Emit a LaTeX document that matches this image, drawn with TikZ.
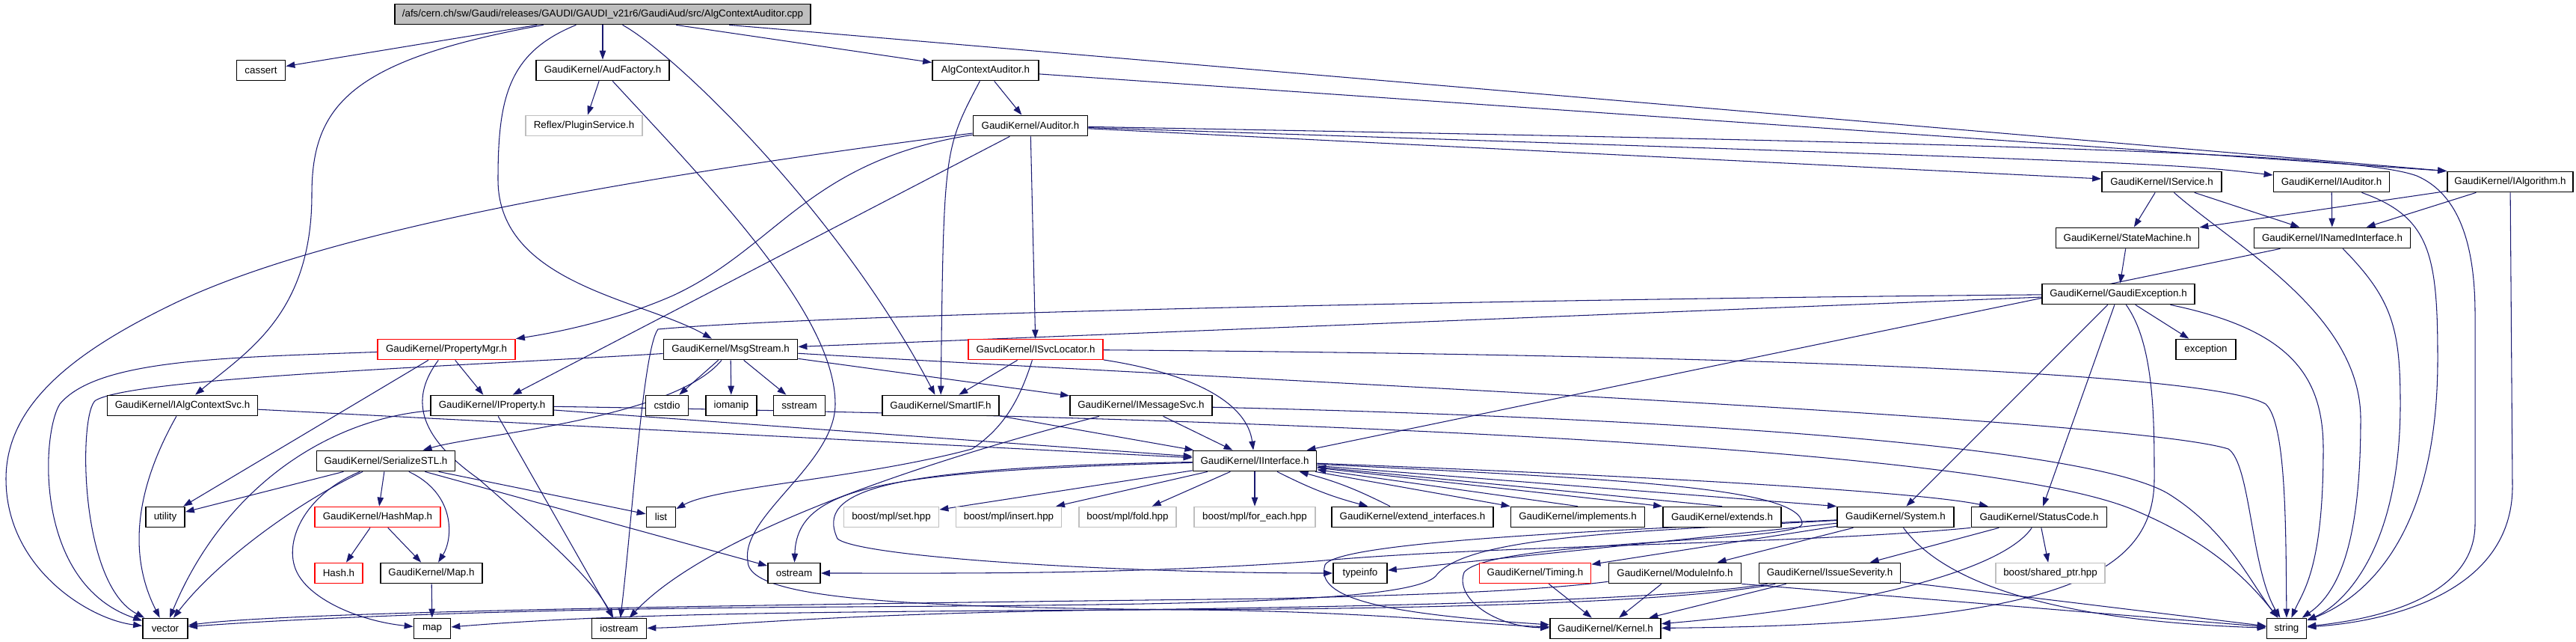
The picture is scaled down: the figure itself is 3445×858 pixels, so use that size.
\documentclass[tikz,border=0pt]{standalone}
\usepackage{fontspec}
\setmainfont{Liberation Sans}
\usetikzlibrary{arrows.meta, backgrounds}
\definecolor{edgeblue}{HTML}{191970}
\definecolor{incgray}{HTML}{BFBFBF}

\begin{document}
\begin{tikzpicture}[x=0.01cm, y=-0.01cm,
  hdr/.style={draw=black, fill=white, line width=0.5pt, inner xsep=0.09cm, inner ysep=0pt,
    minimum height=0.27cm, font=\fontsize{3.8}{4.5}\selectfont},
  sysinc/.style={hdr, draw=incgray},
  trunc/.style={hdr, draw=red},
  dep/.style={draw=edgeblue, line width=0.3pt, -{Triangle[length=3.4pt,width=2.4pt]}}]
  \useasboundingbox (0,0) rectangle (3445,858);

  % Source file and first level
  \node[hdr, fill=incgray, minimum width=5.56cm] (root) at (806,19) {/afs/cern.ch/sw/Gaudi/releases/GAUDI/GAUDI\_v21r6/GaudiAud/src/AlgContextAuditor.cpp};
  \node[hdr, minimum width=0.65cm] (cassert) at (349,94) {cassert};
  \node[hdr, minimum width=1.78cm] (audfactory) at (806,94) {GaudiKernel/AudFactory.h};
  \node[sysinc, minimum width=1.56cm] (pluginsvc) at (781,168) {Reflex/PluginService.h};
  \node[hdr, minimum width=1.42cm] (algctxh) at (1318,94) {AlgContextAuditor.h};
  \node[hdr, minimum width=1.53cm] (auditor) at (1378,168) {GaudiKernel/Auditor.h};

  % Interfaces on the right
  \node[hdr, minimum width=1.60cm] (iservice) at (2891,243) {GaudiKernel/IService.h};
  \node[hdr, minimum width=1.55cm] (iauditor) at (3118,243) {GaudiKernel/IAuditor.h};
  \node[hdr, minimum width=1.68cm] (ialgorithm) at (3357,243) {GaudiKernel/IAlgorithm.h};
  \node[hdr, minimum width=1.91cm] (statemachine) at (2845,318) {GaudiKernel/StateMachine.h};
  \node[hdr, minimum width=2.09cm] (inamed) at (3119,318) {GaudiKernel/INamedInterface.h};
  \node[hdr, minimum width=2.04cm] (gaudiexc) at (2833,393) {GaudiKernel/GaudiException.h};
  \node[hdr, minimum width=0.80cm] (exception) at (2950,467) {exception};

  % Middle rows
  \node[trunc, minimum width=1.84cm] (propertymgr) at (597,467) {GaudiKernel/PropertyMgr.h};
  \node[hdr, minimum width=1.79cm] (msgstream) at (977,467) {GaudiKernel/MsgStream.h};
  \node[trunc, minimum width=1.80cm] (svclocator) at (1385,467) {GaudiKernel/ISvcLocator.h};
  \node[hdr, minimum width=2.01cm] (ialgctxsvc) at (244,542) {GaudiKernel/IAlgContextSvc.h};
  \node[hdr, minimum width=1.64cm] (iproperty) at (658,542) {GaudiKernel/IProperty.h};
  \node[hdr, minimum width=0.57cm] (cstdio) at (892,542) {cstdio};
  \node[hdr, minimum width=0.68cm] (iomanip) at (978,542) {iomanip};
  \node[hdr, minimum width=0.69cm] (sstream) at (1069,542) {sstream};
  \node[hdr, minimum width=1.56cm] (smartif) at (1258,542) {GaudiKernel/SmartIF.h};
  \node[hdr, minimum width=1.90cm] (imessagesvc) at (1526,542) {GaudiKernel/IMessageSvc.h};
  \node[hdr, minimum width=1.85cm] (serializestl) at (516,616) {GaudiKernel/SerializeSTL.h};
  \node[hdr, minimum width=1.65cm] (iinterface) at (1678,616) {GaudiKernel/IInterface.h};

  % Lower rows
  \node[hdr, minimum width=0.52cm] (utility) at (221,691) {utility};
  \node[trunc, minimum width=1.68cm] (hashmap) at (505,691) {GaudiKernel/HashMap.h};
  \node[hdr, minimum width=0.39cm] (list) at (884,691) {list};
  \node[sysinc, minimum width=1.27cm] (mplset) at (1192,691) {boost/mpl/set.hpp};
  \node[sysinc, minimum width=1.41cm] (mplinsert) at (1349,691) {boost/mpl/insert.hpp};
  \node[sysinc, minimum width=1.30cm] (mplfold) at (1508,691) {boost/mpl/fold.hpp};
  \node[sysinc, minimum width=1.62cm] (mplforeach) at (1678,691) {boost/mpl/for\_each.hpp};
  \node[hdr, minimum width=2.16cm] (extendif) at (1889,691) {GaudiKernel/extend\_interfaces.h};
  \node[hdr, minimum width=1.79cm] (implements) at (2110,691) {GaudiKernel/implements.h};
  \node[hdr, minimum width=1.58cm] (extends) at (2303,691) {GaudiKernel/extends.h};
  \node[hdr, minimum width=1.56cm] (system) at (2535,691) {GaudiKernel/System.h};
  \node[hdr, minimum width=1.81cm] (statuscode) at (2727,691) {GaudiKernel/StatusCode.h};
  \node[trunc, minimum width=0.64cm] (hash) at (453,766) {Hash.h};
  \node[hdr, minimum width=1.36cm] (maph) at (577,766) {GaudiKernel/Map.h};
  \node[hdr, minimum width=0.70cm] (ostream) at (1062,766) {ostream};
  \node[hdr, minimum width=0.72cm] (typeinfo) at (1819,766) {typeinfo};
  \node[trunc, minimum width=1.49cm] (timing) at (2053,766) {GaudiKernel/Timing.h};
  \node[hdr, minimum width=1.77cm] (moduleinfo) at (2240,766) {GaudiKernel/ModuleInfo.h};
  \node[hdr, minimum width=1.89cm] (issue) at (2447,766) {GaudiKernel/IssueSeverity.h};
  \node[sysinc, minimum width=1.46cm] (sharedptr) at (2742,766) {boost/shared\_ptr.hpp};
  \node[hdr, minimum width=0.60cm] (vector) at (221,840) {vector};
  \node[hdr, minimum width=0.49cm] (map) at (578,840) {map};
  \node[hdr, minimum width=0.73cm] (iostream) at (828,840) {iostream};
  \node[hdr, minimum width=1.48cm] (kernel) at (2147,840) {GaudiKernel/Kernel.h};
  \node[hdr, minimum width=0.53cm] (string) at (3058,840) {string};

  \begin{scope}[on background layer]
  % From the source file
  \draw[dep] (root) -- (cassert);
  \draw[dep] (root) -- (audfactory);
  \draw[dep] (root) -- (algctxh);
  \draw[dep] (root) .. controls (470,80) and (417,140) .. (417,260) .. controls (417,420) and (330,470) .. (ialgctxsvc);
  \draw[dep] (root) .. controls (680,70) and (666,130) .. (666,240) .. controls (666,380) and (860,400) .. (msgstream);
  \draw[dep] (root) .. controls (900,70) and (1120,280) .. (smartif);
  \draw[dep] (root) -- (ialgorithm.north west);
  \draw[dep] (audfactory) -- (pluginsvc);
  \draw[dep] (audfactory) .. controls (950,250) and (1117,420) .. (1117,540) .. controls (1117,620) and (990,690) .. (1000,750) .. controls (1000,800) and (1200,812) .. (1600,815) .. controls (1850,818) and (1980,835) .. (kernel);

  % AlgContextAuditor.h and Auditor.h
  \draw[dep] (algctxh) -- (auditor);
  \draw[dep] (algctxh) .. controls (1262,200) .. (smartif);
  \draw[dep] (algctxh) -- (ialgorithm.north west);
  \draw[dep] (auditor) -- (iservice);
  \draw[dep] (auditor) .. controls (2900,218) .. (iauditor);
  \draw[dep] (auditor) .. controls (2700,192) and (3150,205) .. (3232,235) .. controls (3290,260) and (3310,330) .. (3310,420) -- (3310,700) .. controls (3310,790) and (3200,825) .. (string);
  \draw[dep] (auditor) .. controls (900,230) and (450,300) .. (230,407) .. controls (100,470) and (8,540) .. (8,640) .. controls (8,760) and (120,828) .. (vector);
  \draw[dep] (auditor) .. controls (1080,215) and (1040,330) .. (900,395) .. controls (820,430) and (740,445) .. (propertymgr);
  \draw[dep] (auditor) -- (iproperty);
  \draw[dep] (auditor) -- (svclocator);

  % Interfaces on the right
  \draw[dep] (iservice) -- (statemachine);
  \draw[dep] (iservice) -- (inamed);
  \draw[dep] (iservice) .. controls (2990,330) and (3157,420) .. (3157,560) .. controls (3157,720) and (3130,790) .. (string);
  \draw[dep] (iauditor) -- (inamed);
  \draw[dep] (iauditor) .. controls (3250,290) and (3260,340) .. (3260,480) .. controls (3260,720) and (3160,800) .. (string);
  \draw[dep] (ialgorithm) -- (statemachine);
  \draw[dep] (ialgorithm) -- (inamed);
  \draw[dep] (ialgorithm) -- (3360,650) .. controls (3360,790) and (3200,830) .. (string);
  \draw[dep] (statemachine) -- (gaudiexc);
  \draw[dep] (inamed) -- (iinterface);
  \draw[dep] (inamed) .. controls (3200,400) and (3210,440) .. (3210,540) .. controls (3210,740) and (3130,810) .. (string);

  % GaudiException.h
  \draw[dep] (gaudiexc) -- (exception);
  \draw[dep] (gaudiexc) -- (system);
  \draw[dep] (gaudiexc) -- (statuscode);
  \draw[dep] (gaudiexc) -- (msgstream);
  \draw[dep] (gaudiexc) .. controls (2881,460) and (2881,560) .. (2881,640) .. controls (2881,770) and (2750,835) .. (kernel);
  \draw[dep] (gaudiexc) .. controls (3060,440) and (3107,500) .. (3107,600) .. controls (3107,760) and (3080,790) .. (string);
  \draw[dep] (gaudiexc) .. controls (2000,400) and (1100,420) .. (880,440) .. controls (860,465) and (845,700) .. (iostream);

  % MsgStream.h
  \draw[dep] (msgstream) -- (cstdio);
  \draw[dep] (msgstream) -- (iomanip);
  \draw[dep] (msgstream) -- (sstream);
  \draw[dep] (msgstream) -- (imessagesvc);
  \draw[dep] (msgstream) .. controls (900,560) and (640,580) .. (serializestl);
  \draw[dep] (msgstream) .. controls (600,490) and (180,505) .. (128,535) .. controls (105,550) and (105,780) .. (vector);
  \draw[dep] (msgstream) .. controls (1800,515) and (2850,560) .. (2980,600) .. controls (3010,620) and (3010,760) .. (string);

  % PropertyMgr.h and IProperty.h
  \draw[dep] (propertymgr) -- (iproperty);
  \draw[dep] (propertymgr) -- (utility);
  \draw[dep] (propertymgr) .. controls (300,478) and (130,480) .. (80,540) .. controls (55,580) and (45,780) .. (vector);
  \draw[dep] (propertymgr) .. controls (550,530) and (555,580) .. (640,640) .. controls (720,710) and (790,770) .. (iostream);
  \draw[dep] (iproperty) .. controls (440,560) and (300,650) .. (vector);
  \draw[dep] (iproperty) -- (iinterface);
  \draw[dep] (iproperty) -- (iostream);
  \draw[dep] (iproperty) .. controls (1800,560) and (2650,600) .. (2850,680) .. controls (2960,725) and (3010,780) .. (string);
  \draw[dep] (ialgctxsvc) .. controls (200,620) and (160,720) .. (vector);
  \draw[dep] (ialgctxsvc) -- (iinterface);

  % ISvcLocator.h, SmartIF.h, IMessageSvc.h
  \draw[dep] (svclocator) -- (smartif);
  \draw[dep] (svclocator) .. controls (1365,530) and (1345,570) .. (1300,600) .. controls (1150,640) and (960,650) .. (list);
  \draw[dep] (svclocator) .. controls (1600,500) and (1668,540) .. (iinterface);
  \draw[dep] (svclocator) .. controls (2400,475) and (2960,500) .. (3030,540) .. controls (3057,565) and (3057,700) .. (string);
  \draw[dep] (smartif) -- (iinterface);
  \draw[dep] (imessagesvc) -- (iinterface);
  \draw[dep] (imessagesvc) .. controls (1300,600) and (960,700) .. (iostream);
  \draw[dep] (imessagesvc) .. controls (2300,560) and (2800,600) .. (2900,660) .. controls (2980,710) and (3010,780) .. (string);

  % SerializeSTL.h and HashMap.h
  \draw[dep] (serializestl) -- (utility);
  \draw[dep] (serializestl) -- (hashmap);
  \draw[dep] (serializestl) .. controls (610,660) and (606,720) .. (maph);
  \draw[dep] (serializestl) -- (list);
  \draw[dep] (serializestl) -- (ostream);
  \draw[dep] (serializestl) .. controls (400,670) and (290,750) .. (vector);
  \draw[dep] (serializestl) .. controls (410,660) and (380,720) .. (395,760) .. controls (410,800) and (480,830) .. (map);
  \draw[dep] (hashmap) -- (hash);
  \draw[dep] (hashmap) -- (maph);
  \draw[dep] (maph) -- (map);

  % IInterface.h
  \draw[dep] (iinterface) -- (mplset);
  \draw[dep] (iinterface) -- (mplinsert);
  \draw[dep] (iinterface) -- (mplfold);
  \draw[dep] (iinterface) -- (mplforeach);
  \draw[dep] (iinterface) to[bend right=6] (extendif);
  \draw[dep] (extendif) to[bend right=6] (iinterface);
  \draw[dep] (iinterface) -- (implements.north west);
  \draw[dep] (implements.north) -- (iinterface);
  \draw[dep] (iinterface) -- (extends.north west);
  \draw[dep] (extends.north) -- (iinterface);
  \draw[dep] (iinterface) -- (system.north west);
  \draw[dep] (iinterface) .. controls (2300,640) and (2580,660) .. (statuscode);
  \draw[dep] (iinterface) .. controls (1180,630) and (1066,650) .. (ostream);
  \draw[dep] (iinterface) .. controls (1180,625) and (1090,655) .. (1120,720) .. controls (1150,745) and (1500,766) .. (typeinfo);
  \draw[dep] (iinterface) .. controls (2150,640) and (2410,650) .. (2410,700) .. controls (2410,725) and (1990,722) .. (1958,765) .. controls (1945,800) and (2000,838) .. (kernel);

  % System.h, StatusCode.h and below
  \draw[dep] (system) -- (moduleinfo);
  \draw[dep] (system) -- (timing);
  \draw[dep] (system) -- (typeinfo);
  \draw[dep] (system) .. controls (2600,780) and (2750,830) .. (string);
  \draw[dep] (system) .. controls (2250,705) and (1790,720) .. (1772,755) .. controls (1758,800) and (1850,820) .. (kernel);
  \draw[dep] (system) .. controls (2200,710) and (1960,715) .. (1920,770) .. controls (1880,810) and (1500,808) .. (1000,812) .. controls (600,816) and (350,830) .. (vector);
  \draw[dep] (statuscode) -- (issue);
  \draw[dep] (statuscode) -- (sharedptr);
  \draw[dep] (statuscode) .. controls (2680,760) and (2500,810) .. (kernel);
  \draw[dep] (statuscode.south west) .. controls (2400,728) and (2000,728) .. (1760,750) .. controls (1500,768) and (1300,766) .. (ostream);
  \draw[dep] (timing) -- (kernel);
  \draw[dep] (moduleinfo) -- (kernel);
  \draw[dep] (moduleinfo.south east) -- (string);
  \draw[dep] (moduleinfo) .. controls (2050,790) and (1900,795) .. (1700,800) .. controls (1200,806) and (400,815) .. (vector);
  \draw[dep] (issue) -- (kernel);
  \draw[dep] (issue) -- (string);
  \draw[dep] (issue) .. controls (2250,800) and (1900,810) .. (1500,815) .. controls (1100,820) and (950,838) .. (iostream);
  \draw[dep] (issue) .. controls (2250,805) and (1900,815) .. (1500,815) .. controls (1000,818) and (800,822) .. (map);
  \end{scope}
\end{tikzpicture}
\end{document}
